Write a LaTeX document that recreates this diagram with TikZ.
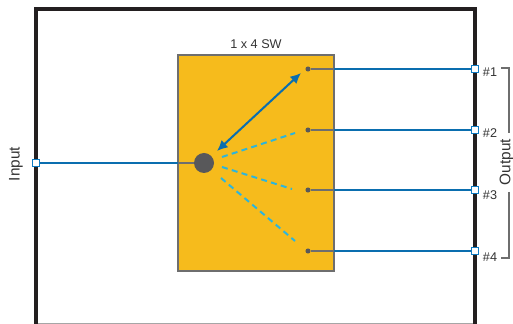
\documentclass[tikz,border=0pt]{standalone}
\usepackage{fontspec}
\setmainfont{Liberation Sans}
\definecolor{swyellow}{HTML}{F6BB1C}
\definecolor{swgrey}{HTML}{6E6E6E}
\definecolor{swdark}{HTML}{58585A}
\definecolor{swblue}{HTML}{0A6EAF}
\definecolor{swport}{HTML}{0F7CC4}
\definecolor{swcyan}{HTML}{2DB5DC}
\definecolor{swframe}{HTML}{231F20}
\usetikzlibrary{arrows.meta}
\tikzset{
	port/.style={draw=swport, fill=white, line width=0.9pt, minimum size=5.2pt, inner sep=0pt},
	pin/.style={circle, fill=swdark, minimum size=3.8pt, inner sep=0pt},
	fiber/.style={draw=swblue, line width=1.5pt},
	lead/.style={draw=swgrey, line width=1.2pt},
	dashfiber/.style={draw=swcyan, line width=1.5pt, dash pattern=on 4.5pt off 3.2pt},
	label/.style={font=\fontsize{9.5}{11}\selectfont, text=black!80},
	biglabel/.style={font=\fontsize{11.5}{13}\selectfont, text=black!80}
}
\begin{document}
\begin{tikzpicture}[x=0.75pt, y=0.75pt]
	\useasboundingbox (0, 0) rectangle (513, 324);
	\draw[black!35, line width=0.8pt] (36, 0.5) -- (475, 0.5);
	\draw[swframe, line width=3pt] (36, -2) -- (36, 315) -- (475, 315) -- (475, -2);

	\node[draw=swgrey, fill=swyellow, line width=1.5pt, minimum width=117pt, minimum height=162pt, inner sep=0pt] (sw) at (256, 161) {};
	\node[label, above=0pt] (title) at (256, 271) {1 x 4 SW};

	\node[circle, fill=swdark, minimum size=15pt, inner sep=0pt] (hub) at (204, 161) {};
	\node[pin] (p1) at (308, 255) {};
	\node[pin] (p2) at (308, 194) {};
	\node[pin] (p3) at (308, 134) {};
	\node[pin] (p4) at (308, 73) {};

	\coordinate (e0) at (178, 161);
	\coordinate (e1) at (334, 255);
	\coordinate (e2) at (334, 194);
	\coordinate (e3) at (334, 134);
	\coordinate (e4) at (334, 73);

	\draw[lead] (e0) -- (hub);
	\draw[lead] (p1) -- (e1);
	\draw[lead] (p2) -- (e2);
	\draw[lead] (p3) -- (e3);
	\draw[lead] (p4) -- (e4);

	\node[port] (in) at (36, 161) {};
	\node[port] (o1) at (475, 255) {};
	\node[port] (o2) at (475, 194) {};
	\node[port] (o3) at (475, 134) {};
	\node[port] (o4) at (475, 73) {};

	\draw[fiber] (in) -- (e0);
	\draw[fiber] (e1) -- (o1);
	\draw[fiber] (e2) -- (o2);
	\draw[fiber] (e3) -- (o3);
	\draw[fiber] (e4) -- (o4);

	\coordinate (a1) at (301, 251);
	\coordinate (a2) at (217, 173);
	\coordinate (d2a) at (222, 167);
	\coordinate (d2b) at (295, 191);
	\coordinate (d3a) at (222, 157);
	\coordinate (d3b) at (292, 135);
	\coordinate (d4a) at (221, 146);
	\coordinate (d4b) at (295, 83);
	\draw[fiber, {Latex[length=8pt,width=7.5pt]}-{Latex[length=8pt,width=7.5pt]}] (a2) -- (a1);
	\draw[dashfiber] (d2a) -- (d2b);
	\draw[dashfiber] (d3a) -- (d3b);
	\draw[dashfiber] (d4a) -- (d4b);

	\node[biglabel, rotate=90] (input) at (16, 160) {Input};
	\node[label] (n1) at (490, 252) {\#1};
	\node[label] (n2) at (490, 191) {\#2};
	\node[label] (n3) at (490, 129) {\#3};
	\node[label] (n4) at (490, 67) {\#4};
	\node[biglabel, rotate=90] (output) at (506.5, 162) {Output};

	\coordinate (b1) at (501, 256);
	\coordinate (b2) at (509, 256);
	\coordinate (b3) at (509, 191);
	\coordinate (b4) at (509, 132);
	\coordinate (b5) at (509, 66);
	\coordinate (b6) at (501, 66);
	\draw[swgrey, line width=0.9pt] (b1) -- (b2) -- (b3);
	\draw[swgrey, line width=0.9pt] (b4) -- (b5) -- (b6);
\end{tikzpicture}
\end{document}
